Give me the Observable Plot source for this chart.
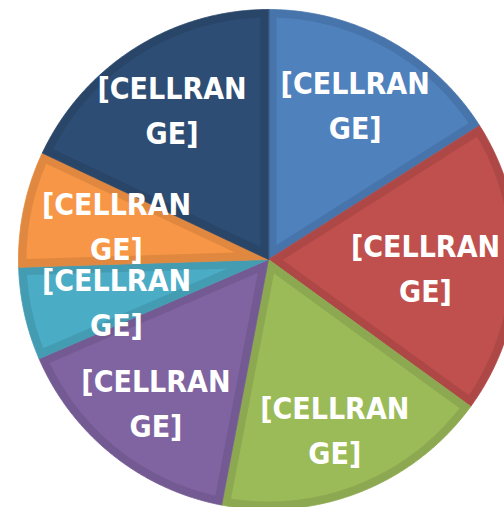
<!DOCTYPE html>
<html><head><meta charset="utf-8">
<script src="https://cdn.jsdelivr.net/npm/d3@7"></script>
<script src="https://cdn.jsdelivr.net/npm/@observablehq/plot@0.6"></script>
<style>html,body{margin:0;padding:0;background:#fff;overflow:hidden}</style>
</head><body><div id="chart"></div>
<script>
// Slices clockwise from 12 o'clock
const labels = ["[CELLRANGE]", "[CELLRANGE]", "[CELLRANGE]", "[CELLRANGE]", "[CELLRANGE]", "[CELLRANGE]", "[CELLRANGE]"];
const values = [16, 19, 18, 15.5, 6, 7.5, 18];
const colors = ["#4F81BD", "#C0504D", "#9BBB59", "#8064A2", "#4BACC6", "#F79646", "#2D4D74"];

const W = 504, H = 507, cx = 268, cy = 259, R = 250;
const band = 8 / R;           // bevel width, in radius units
const labelR = 0.72;          // label distance, in radius units
const xMin = (116 - cx) / R, xMax = (425 - cx) / R; // keep labels inside the chart area

const arcs = d3.pie().sort(null).value(d => d)(values);
const outer = [], inner = [], labelRows = [];
arcs.forEach((a, i) => {
  const a0 = a.startAngle, a1 = a.endAngle;
  const dark = d3.color(colors[i]).darker(0.28).formatHex();
  const n = Math.max(2, Math.ceil((a1 - a0) / (Math.PI / 360)));
  outer.push({i, x: 0, y: 0, c: dark});
  for (let k = 0; k <= n; k++) {
    const t = a0 + (a1 - a0) * k / n;
    outer.push({i, x: Math.sin(t), y: Math.cos(t), c: dark});
  }
  const half = (a1 - a0) / 2, mid = (a0 + a1) / 2;
  const apex = band / Math.sin(half);
  const r2 = 1 - band, da = Math.asin(band / r2);
  inner.push({i, x: apex * Math.sin(mid), y: apex * Math.cos(mid), c: colors[i]});
  for (let k = 0; k <= n; k++) {
    const t = (a0 + da) + (a1 - a0 - 2 * da) * k / n;
    inner.push({i, x: r2 * Math.sin(t), y: r2 * Math.cos(t), c: colors[i]});
  }
  const lx = Math.max(xMin, Math.min(xMax, labelR * Math.sin(mid)));
  const ly = labelR * Math.cos(mid);
  labelRows.push({x: lx, y: ly, text: labels[i].slice(0, 8) + "\n" + labels[i].slice(8)});
});

const chart = Plot.plot({
  width: W, height: H, margin: 0,
  x: {domain: [-1, 1], range: [cx - R, cx + R], axis: null},
  y: {domain: [-1, 1], range: [cy + R, cy - R], axis: null},
  color: {type: "identity"},
  marks: [
    Plot.line(outer, {x: "x", y: "y", z: "i", fill: "c", stroke: "c", strokeWidth: 0.8, curve: "linear-closed"}),
    Plot.line(inner, {x: "x", y: "y", z: "i", fill: "c", stroke: "none", curve: "linear-closed"}),
    Plot.text(labelRows, {x: "x", y: "y", text: "text", fill: "white", fontSize: 30, fontWeight: "bold",
      fontFamily: "'DejaVu Sans Condensed', 'DejaVu Sans', sans-serif", lineHeight: 1.5})
  ]
});
document.getElementById("chart").appendChild(chart);
</script>
</body></html>
